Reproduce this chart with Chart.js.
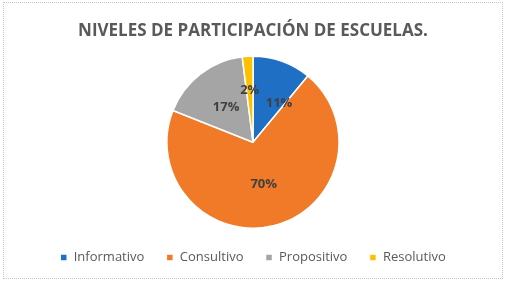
<!DOCTYPE html>
<html>
<head>
<meta charset="utf-8">
<script src="https://cdn.jsdelivr.net/npm/chart.js@4/dist/chart.umd.min.js"></script>
<style>
    html, body { margin: 0; padding: 0; background: #fff; }
    #wrap { position: relative; width: 506px; height: 283px; }
    #frame {
        position: absolute; left: 3px; top: 2px; width: 498px; height: 275px;
        border: 1px dotted #c4c4c4; pointer-events: none;
    }
    canvas { position: absolute; left: 0; top: 0; }
</style>
</head>
<body>
<div id="wrap">
    <canvas id="pieChart" width="506" height="283"></canvas>
    <div id="frame"></div>
</div>
<script>
// ============================================
// Niveles de participación — pie chart
// ============================================

const CATEGORIES = ['Informativo', 'Consultivo', 'Propositivo', 'Resolutivo'];
const VALUES = [11, 70, 17, 2];
const COLORS = ['#1F6FC5', '#F07A28', '#A5A5A5', '#FFC000'];

// percentage labels drawn inside the slices
const sliceLabels = {
    id: 'sliceLabels',
    afterDatasetsDraw(chart, args, opts) {
        const { ctx } = chart;
        const meta = chart.getDatasetMeta(0);
        const total = VALUES.reduce((a, b) => a + b, 0);
        ctx.save();
        ctx.font = 'bold 13px "Open Sans", sans-serif';
        ctx.fillStyle = '#404040';
        ctx.textAlign = 'center';
        ctx.textBaseline = 'middle';
        meta.data.forEach((arc, i) => {
            const { x, y, startAngle, endAngle, outerRadius } = arc.getProps(['x', 'y', 'startAngle', 'endAngle', 'outerRadius'], true);
            const mid = (startAngle + endAngle) / 2;
            const r = outerRadius * (opts.ratio[i] || 0.55);
            const nudge = opts.nudge[i] || [0, 0];
            const pct = Math.round(VALUES[i] / total * 100) + '%';
            ctx.fillText(pct, x + Math.cos(mid) * r + nudge[0], y + Math.sin(mid) * r + nudge[1]);
        });
        ctx.restore();
    }
};

new Chart(document.getElementById('pieChart'), {
    type: 'pie',
    data: {
        labels: CATEGORIES,
        datasets: [{
            data: VALUES,
            backgroundColor: COLORS,
            borderColor: '#ffffff',
            borderWidth: 1.5,
        }]
    },
    options: {
        responsive: false,
        animation: false,
        layout: { padding: { top: 0, bottom: 9, left: 0, right: 0 } },
        plugins: {
            title: {
                display: true,
                text: 'NIVELES DE PARTICIPACIÓN DE ESCUELAS.',
                color: '#595959',
                font: { family: '"Open Sans", sans-serif', size: 17, weight: 'bold' },
                padding: { top: 21, bottom: 14 },
            },
            legend: {
                position: 'bottom',
                labels: {
                    color: '#595959',
                    font: { family: '"Open Sans", sans-serif', size: 13 },
                    boxWidth: 7,
                    boxHeight: 7,
                    padding: 22,
                }
            },
            tooltip: { enabled: false },
            sliceLabels: {
                ratio: [0.55, 0.5, 0.51, 0.61],
                nudge: [[10, 6], [0, 0], [0, 0], [0, 0]],
            }
        }
    },
    plugins: [sliceLabels]
});
</script>
</body>
</html>
